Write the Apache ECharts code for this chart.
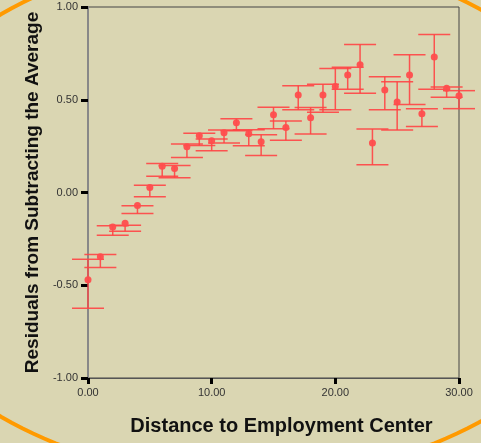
<!DOCTYPE html>
<html>
<head>
<meta charset="utf-8">
<script src="https://cdn.jsdelivr.net/npm/echarts@6/dist/echarts.min.js"></script>
<style>
  html, body { margin: 0; padding: 0; background: #dad6b2; }
  #chart { width: 481px; height: 443px; }
</style>
</head>
<body>
<div id="chart"></div>
<script>
// Distance to employment center (x) and residual summary per distance
const distance = [0, 1, 2, 3, 4, 5, 6, 7, 8, 9, 10, 11, 12, 13, 14, 15,
                  16, 17, 18, 19, 20, 21, 22, 23, 24, 25, 26, 27, 28, 29, 30];
const meanResidual = [-0.471, -0.347, -0.186, -0.166, -0.070, 0.027, 0.141, 0.129,
                      0.247, 0.306, 0.279, 0.322, 0.376, 0.317, 0.274, 0.419,
                      0.351, 0.526, 0.403, 0.526, 0.571, 0.633, 0.689, 0.267,
                      0.553, 0.488, 0.633, 0.424, 0.730, 0.562, 0.521];
const upperBound = [-0.360, -0.334, -0.179, -0.176, -0.071, 0.039, 0.156, 0.145,
                    0.261, 0.320, 0.288, 0.337, 0.397, 0.338, 0.311, 0.460,
                    0.385, 0.576, 0.458, 0.583, 0.669, 0.675, 0.798, 0.342,
                    0.624, 0.597, 0.742, 0.452, 0.852, 0.569, 0.549];
const lowerBound = [-0.624, -0.404, -0.231, -0.209, -0.113, -0.023, 0.087, 0.079,
                    0.189, 0.254, 0.225, 0.267, 0.333, 0.252, 0.199, 0.344,
                    0.281, 0.446, 0.315, 0.433, 0.446, 0.557, 0.535, 0.149,
                    0.446, 0.337, 0.474, 0.356, 0.557, 0.514, 0.452];

// Axis tick values
const xTicks = [0, 10, 20, 30];
const yTicks = [-1.0, -0.5, 0.0, 0.5, 1.0];

const xTitle = 'Distance to Employment Center';
const yTitle = 'Residuals from Subtracting the Average';

const chart = echarts.init(document.getElementById('chart'), null, { renderer: 'canvas' });

const errorData = distance.map((d, i) => [d, lowerBound[i], upperBound[i]]);
const pointData = distance.map((d, i) => [d, meanResidual[i]]);

// Decorative orange ellipse frame around the page
const ellipsePts = [];
for (let k = 0; k <= 360; k += 2) {
  const t = k * Math.PI / 180;
  ellipsePts.push([245 + 379 * Math.cos(t), 215.5 + 263 * Math.sin(t)]);
}

const barColor = '#ff4444';
const capHalf = 16;

chart.setOption({
  animation: false,
  backgroundColor: '#dad6b2',
  textStyle: { fontFamily: 'Liberation Sans, Arial, sans-serif' },
  graphic: [{
    type: 'polyline',
    z: -10,
    silent: true,
    shape: { points: ellipsePts },
    style: { stroke: '#ff9a00', lineWidth: 4, fill: null }
  }],
  grid: {
    left: 88, right: 22, top: 7, bottom: 65,
    show: true, borderColor: '#444', borderWidth: 1, backgroundColor: 'transparent'
  },
  xAxis: {
    type: 'value',
    min: xTicks[0], max: xTicks[xTicks.length - 1], interval: xTicks[1] - xTicks[0],
    name: xTitle,
    nameLocation: 'middle',
    nameGap: 38,
    nameTextStyle: { fontSize: 20, fontWeight: 'bold', color: '#111', padding: [0, 0, 0, 16] },
    axisLine: { show: true, onZero: false, lineStyle: { color: '#555', width: 1 } },
    axisTick: { show: true, length: 6, lineStyle: { color: '#000', width: 3 } },
    axisLabel: { fontSize: 11, color: '#333', margin: 9, formatter: v => v.toFixed(2) },
    splitLine: { show: false }
  },
  yAxis: {
    type: 'value',
    min: yTicks[0], max: yTicks[yTicks.length - 1], interval: yTicks[1] - yTicks[0],
    name: yTitle,
    nameLocation: 'middle',
    nameRotate: 90,
    nameGap: 44,
    nameTextStyle: { fontSize: 19, fontWeight: 'bold', color: '#111' },
    axisLine: { show: true, onZero: false, lineStyle: { color: '#888', width: 2 } },
    axisTick: { show: true, length: 7, lineStyle: { color: '#000', width: 3 } },
    axisLabel: { fontSize: 11, color: '#333', margin: 10, formatter: v => v.toFixed(2) },
    splitLine: { show: false }
  },
  series: [
    {
      type: 'custom',
      data: errorData,
      encode: { x: 0, y: [1, 2] },
      clip: false,
      z: 2,
      renderItem: function (params, api) {
        const x = api.value(0);
        const lo = api.coord([x, api.value(1)]);
        const hi = api.coord([x, api.value(2)]);
        const style = { stroke: barColor, lineWidth: 1.5, fill: null, opacity: 0.9 };
        return {
          type: 'group',
          children: [
            { type: 'line', shape: { x1: hi[0], y1: hi[1], x2: lo[0], y2: lo[1] }, style: style },
            { type: 'line', shape: { x1: hi[0] - capHalf, y1: hi[1], x2: hi[0] + capHalf, y2: hi[1] }, style: style },
            { type: 'line', shape: { x1: lo[0] - capHalf, y1: lo[1], x2: lo[0] + capHalf, y2: lo[1] }, style: style }
          ]
        };
      }
    },
    {
      type: 'scatter',
      data: pointData,
      symbol: 'circle',
      symbolSize: 7,
      z: 3,
      itemStyle: { color: '#ff4d4d', opacity: 0.95 }
    }
  ]
});
</script>
</body>
</html>
